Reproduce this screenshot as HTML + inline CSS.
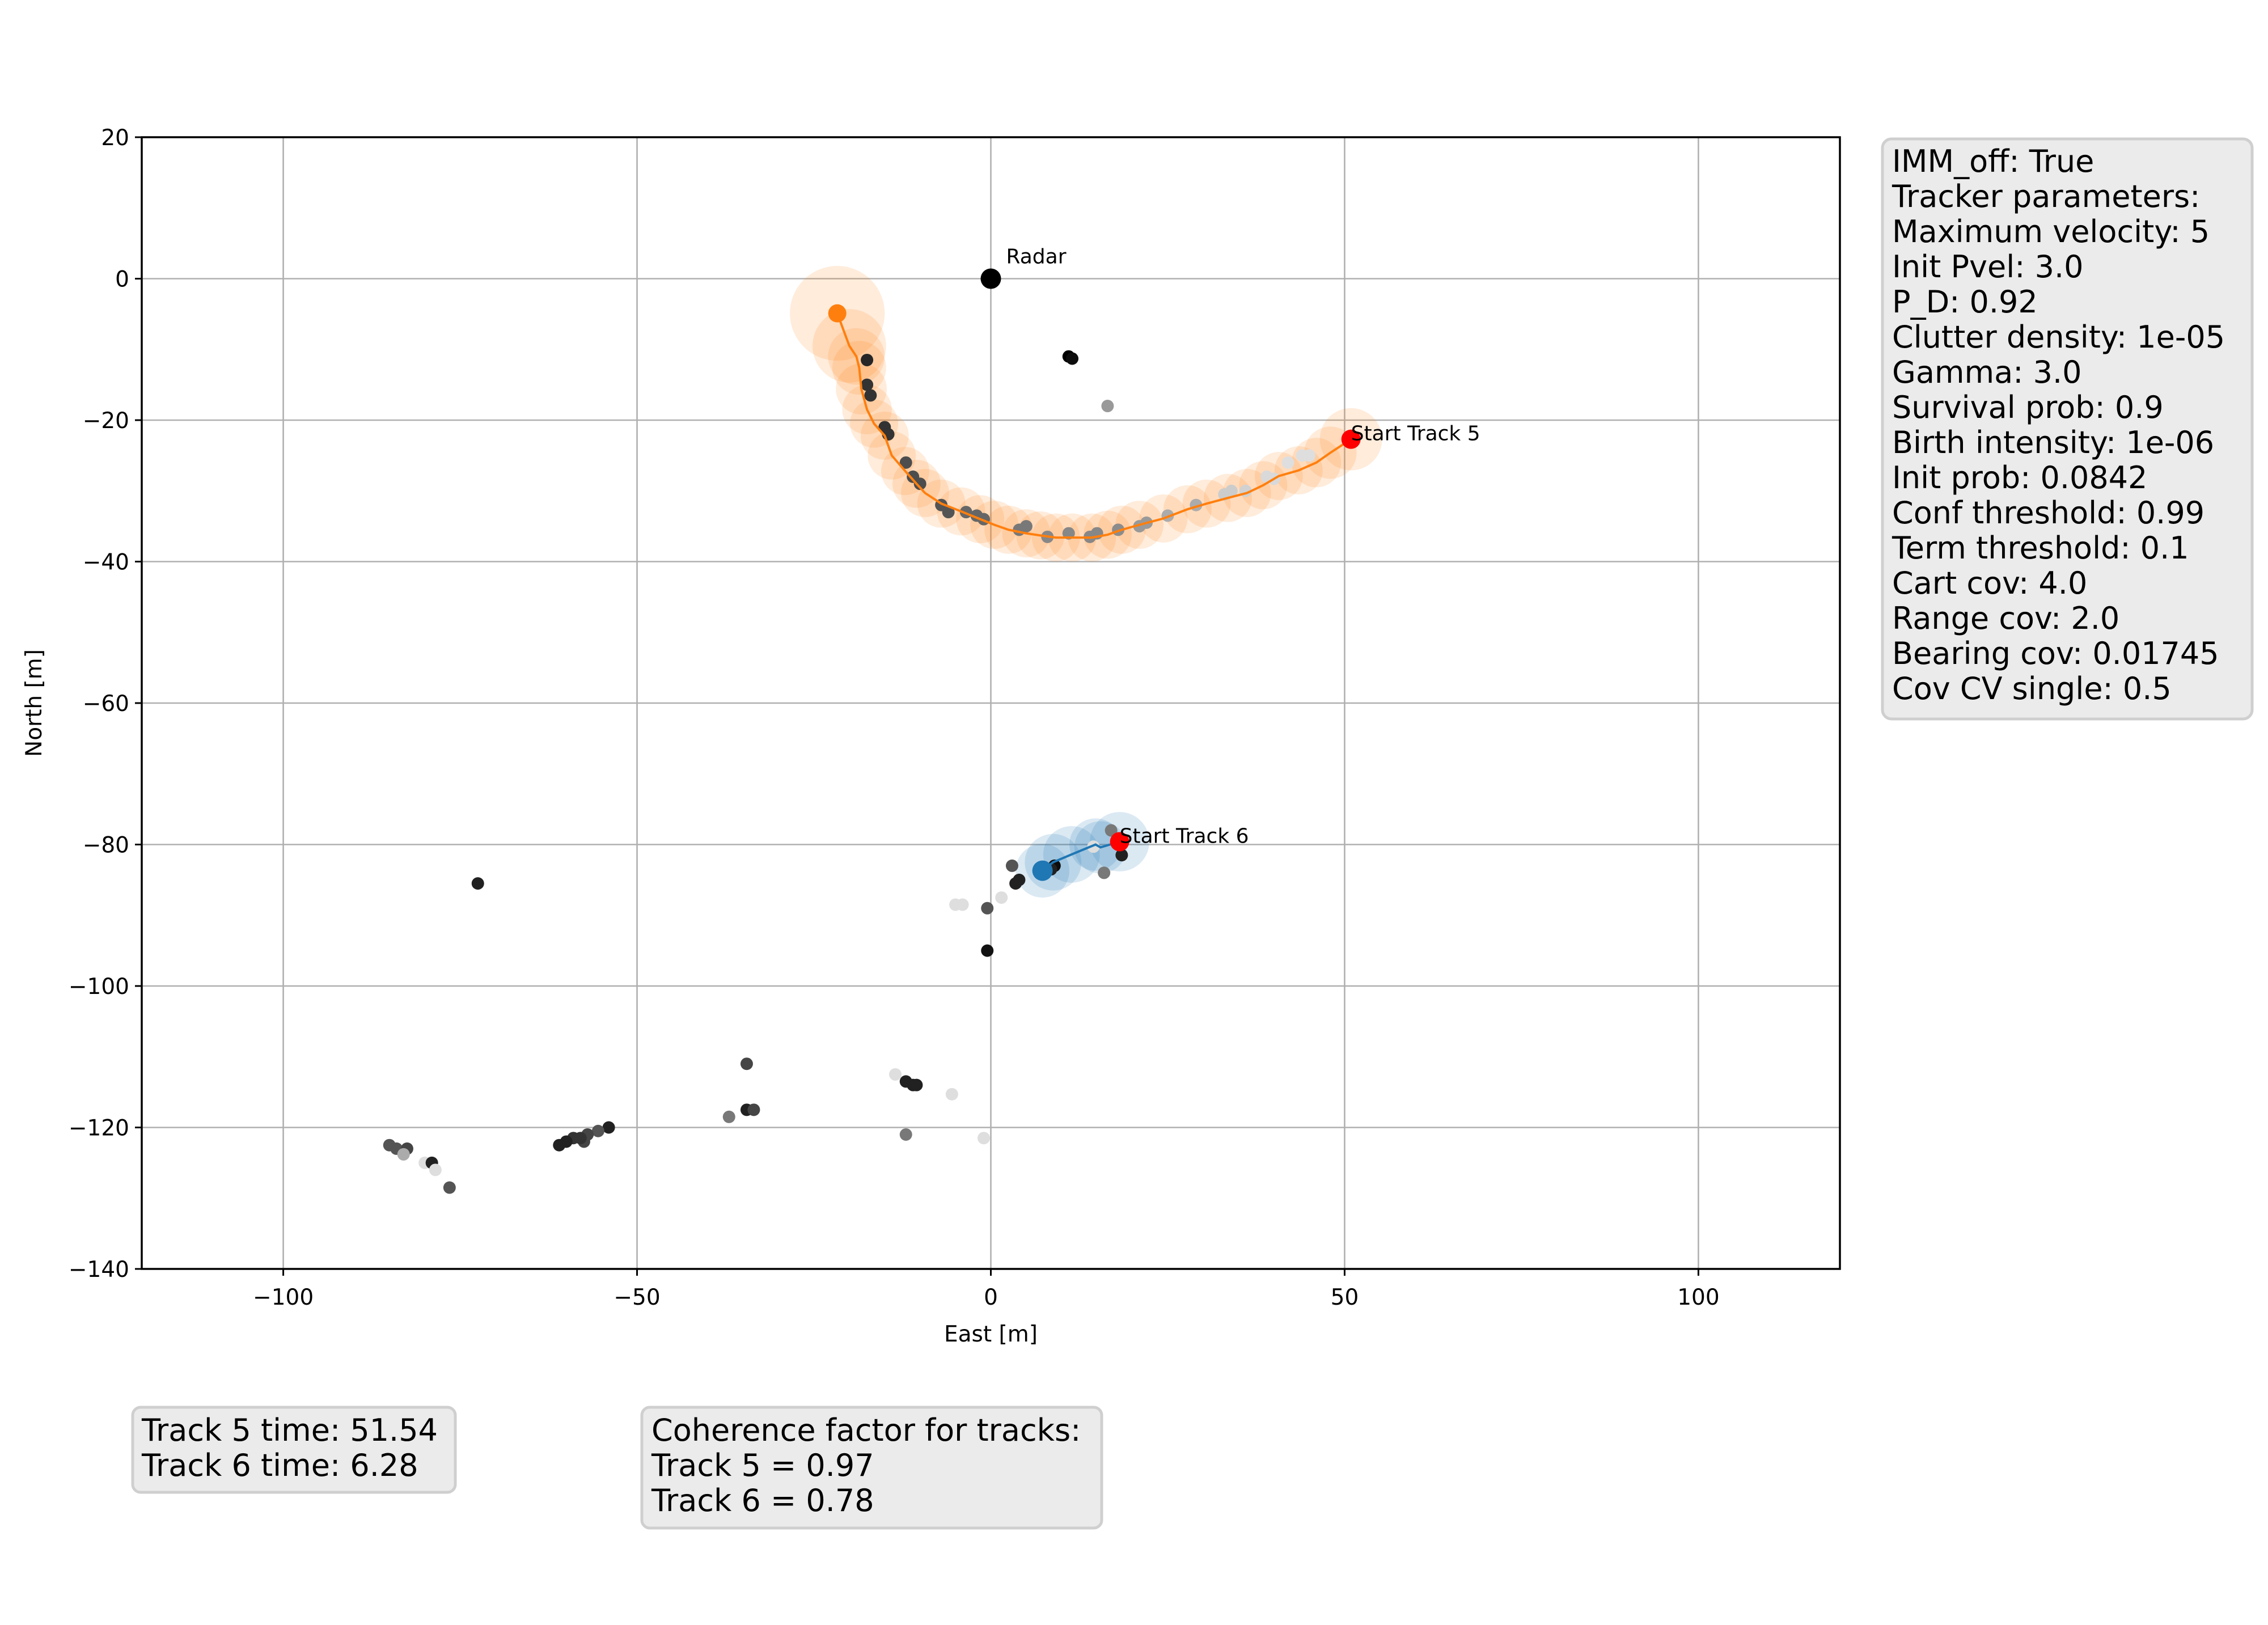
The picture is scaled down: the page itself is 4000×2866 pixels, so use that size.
<!DOCTYPE html>
<html><head><meta charset="utf-8">
<style>
html,body{margin:0;padding:0;background:#fff;}
svg{display:block;}
text{font-family:"DejaVu Sans","Liberation Sans",sans-serif;}
</style></head>
<body>
<svg id="chart" width="4000" height="2866" viewBox="0 0 4000 2866" xmlns="http://www.w3.org/2000/svg">
<rect width="4000" height="2866" fill="#fff"/>
<g id="grid"></g>
<g id="ell"></g>
<g id="meas"></g>
<g id="tracks"></g>
<g id="axes"></g>

<g>
<rect x="3320" y="245" width="652" height="1023" rx="16" fill="#ebebeb" stroke="#cfcfcf" stroke-width="5"/>
<text x="3337" font-size="54" fill="#000">
<tspan x="3337" y="303">IMM_off: True</tspan>
<tspan x="3337" dy="62">Tracker parameters:</tspan>
<tspan x="3337" dy="62">Maximum velocity: 5</tspan>
<tspan x="3337" dy="62">Init Pvel: 3.0</tspan>
<tspan x="3337" dy="62">P_D: 0.92</tspan>
<tspan x="3337" dy="62">Clutter density: 1e-05</tspan>
<tspan x="3337" dy="62">Gamma: 3.0</tspan>
<tspan x="3337" dy="62">Survival prob: 0.9</tspan>
<tspan x="3337" dy="62">Birth intensity: 1e-06</tspan>
<tspan x="3337" dy="62">Init prob: 0.0842</tspan>
<tspan x="3337" dy="62">Conf threshold: 0.99</tspan>
<tspan x="3337" dy="62">Term threshold: 0.1</tspan>
<tspan x="3337" dy="62">Cart cov: 4.0</tspan>
<tspan x="3337" dy="62">Range cov: 2.0</tspan>
<tspan x="3337" dy="62">Bearing cov: 0.01745</tspan>
<tspan x="3337" dy="62">Cov CV single: 0.5</tspan>
</text>
</g>
<g>
<rect x="234" y="2482" width="569" height="150" rx="14" fill="#ebebeb" stroke="#cfcfcf" stroke-width="5"/>
<text font-size="54" fill="#000"><tspan x="250" y="2541">Track 5 time: 51.54</tspan><tspan x="250" dy="62">Track 6 time: 6.28</tspan></text>
</g>
<g>
<rect x="1132" y="2482" width="811" height="213" rx="14" fill="#ebebeb" stroke="#cfcfcf" stroke-width="5"/>
<text font-size="54" fill="#000"><tspan x="1149" y="2541">Coherence factor for tracks:</tspan><tspan x="1149" dy="62">Track 5 = 0.97</tspan><tspan x="1149" dy="62">Track 6 = 0.78</tspan></text>
</g>
</svg>
<script>
const xTicks = [-100, -50, 0, 50, 100];
const yTicks = [20, 0, -20, -40, -60, -80, -100, -120, -140];
const track5X = [-21.7,-20,-19,-18.6,-18.3,-17.5,-16.5,-15,-14,-12.1,-10.5,-9.3,-7,-4.2,-1.5,0.5,2.5,5,7,9.2,11.5,14.3,16.5,18.5,21,24.4,27.8,30.5,33.5,36.2,38.5,40.7,43.5,46,48,50.9];
const track5Y = [-4.9,-9.5,-11,-12.6,-15.6,-18.5,-20.5,-22.2,-25,-27.2,-29,-30.3,-31.8,-32.9,-34,-34.8,-35.5,-36,-36.3,-36.6,-36.6,-36.6,-36.2,-35.5,-34.8,-33.9,-32.6,-31.8,-31,-30.3,-29.2,-27.9,-27.1,-26,-24.6,-22.7];
const track5R = [6.7,5.2,4.0,3.8,3.6,3.5,3.4,3.4,3.4,3.4,3.4,3.4,3.4,3.4,3.4,3.4,3.4,3.4,3.4,3.4,3.4,3.4,3.4,3.4,3.4,3.4,3.4,3.4,3.4,3.4,3.4,3.4,3.4,3.5,3.7,4.4];
const track6X = [18.2,15.5,14.8,11.4,8.8,7.3];
const track6Y = [-79.6,-80.4,-80,-81.4,-82.5,-83.7];
const track6R = [4.2,3.7,3.7,4.0,4.0,3.8];
const measX = [-17.5,-17.5,-17,-15,-14.5,-12,-11,-10,-7,-6,-3.5,-2,-1,4,5,8,11,14,15,18,21,22,25,29,33,34,36,39,40,42,44,45,11,11.5,16.5,-72.5,17,16,18.5,14.5,9,8.5,3,3.5,4,-0.5,-5,-4,1.5,-0.5,-34.5,-34.5,-33.5,-37,-13.5,-12,-11,-10.5,-5.5,-12,-1,-54,-55.5,-57,-57.5,-59,-60,-61,-58,-85,-84,-82.5,-83,-80,-79,-78.5,-76.5];
const measY = [-11.5,-15,-16.5,-21,-22,-26,-28,-29,-32,-33,-33,-33.5,-34,-35.5,-35,-36.5,-36,-36.5,-36,-35.5,-35,-34.5,-33.5,-32,-30.5,-30,-30,-28,-28.3,-26,-25,-25,-11,-11.3,-18,-85.5,-78,-84,-81.5,-80.3,-83,-83.5,-83,-85.5,-85,-89,-88.5,-88.5,-87.5,-95,-111,-117.5,-117.5,-118.5,-112.5,-113.5,-114,-114,-115.3,-121,-121.5,-120,-120.5,-121,-122,-121.5,-122,-122.5,-121.5,-122.5,-123,-123,-123.8,-125,-125,-126,-128.5];
const measShade = [0.15,0.2,0.2,0.2,0.2,0.3,0.3,0.3,0.33,0.33,0.4,0.4,0.4,0.47,0.47,0.53,0.53,0.53,0.53,0.55,0.6,0.6,0.67,0.67,0.8,0.8,0.82,0.85,0.85,0.87,0.87,0.87,0,0.05,0.6,0.13,0.47,0.47,0.13,0.87,0.05,0.13,0.33,0.13,0.13,0.33,0.87,0.87,0.87,0.07,0.27,0.13,0.27,0.47,0.87,0.13,0.13,0.13,0.87,0.47,0.87,0.13,0.33,0.27,0.27,0.2,0.13,0.13,0.2,0.33,0.33,0.27,0.67,0.87,0.13,0.87,0.33];

const L=250, R=3245, T=242, B=2238;
const sx = v => L + (v + 120) * (R - L) / 240;
const sy = v => T + (20 - v) * (B - T) / 160;
const sc = (R - L) / 240;
const NS = "http://www.w3.org/2000/svg";
function mk(tag, parent, attrs){ const e=document.createElementNS(NS,tag); for(const k in attrs) e.setAttribute(k,attrs[k]); parent.appendChild(e); return e; }

const grid=document.getElementById('grid'), axes=document.getElementById('axes');
xTicks.forEach(v=>{
  const g=mk('line',grid,{x1:sx(v),x2:sx(v),y1:T,y2:B,stroke:'#b0b0b0','stroke-width':2.6});
  
  
  const t=mk('line',axes,{x1:sx(v),x2:sx(v),y1:B,y2:B+12,stroke:'#000','stroke-width':3});
  
  
  const l=mk('text',axes,{x:sx(v),y:B+63,'font-size':39,'text-anchor':'middle'});
  l.textContent = v<0 ? '\u2212'+Math.abs(v) : String(v);
  
  
});
yTicks.forEach(v=>{
  const g=mk('line',grid,{x1:L,x2:R,y1:sy(v),y2:sy(v),stroke:'#b0b0b0','stroke-width':2.6});
  
  
  const t=mk('line',axes,{x1:L-12,x2:L,y1:sy(v),y2:sy(v),stroke:'#000','stroke-width':3});
  
  
  const l=mk('text',axes,{x:L-22,y:sy(v)+14,'font-size':39,'text-anchor':'end'});
  l.textContent = v<0 ? '\u2212'+Math.abs(v) : String(v);
  
  
});
const fr=mk('rect',axes,{x:L,y:T,width:R-L,height:B-T,fill:'none',stroke:'#000','stroke-width':3.5});


const xl=mk('text',axes,{x:(L+R)/2,y:2366,'font-size':39,'text-anchor':'middle'});
xl.textContent='East [m]';


const yl=mk('text',axes,{x:0,y:0,'font-size':39,'text-anchor':'middle',transform:'translate(73,1240) rotate(-90)'});
yl.textContent='North [m]';



const ell=document.getElementById('ell');
track5X.forEach((x,i)=>{
  const c=mk('circle',ell,{cx:sx(x),cy:sy(track5Y[i]),r:track5R[i]*sc,fill:'#ff7f0e','fill-opacity':0.15});
  
  
});
track6X.forEach((x,i)=>{
  const c=mk('circle',ell,{cx:sx(x),cy:sy(track6Y[i]),r:track6R[i]*sc,fill:'#1f77b4','fill-opacity':0.16});
  
  
});

const meas=document.getElementById('meas');
measX.forEach((x,i)=>{
  const g=Math.round(measShade[i]*255);
  const c=mk('circle',meas,{cx:sx(x),cy:sy(measY[i]),r:11,fill:`rgb(${g},${g},${g})`});
  
  
});

const tr=document.getElementById('tracks');
const p5=mk('polyline',tr,{points:track5X.map((x,i)=>sx(x)+','+sy(track5Y[i])).join(' '),fill:'none',stroke:'#ff7f0e','stroke-width':4});


const p6=mk('polyline',tr,{points:track6X.map((x,i)=>sx(x)+','+sy(track6Y[i])).join(' '),fill:'none',stroke:'#1f77b4','stroke-width':4});


const e5=mk('circle',tr,{cx:sx(track5X[0]),cy:sy(track5Y[0]),r:16,fill:'#ff7f0e'});


const e6=mk('circle',tr,{cx:sx(track6X[track6X.length-1]),cy:sy(track6Y[track6Y.length-1]),r:18,fill:'#1f77b4'});


const s5=mk('circle',tr,{cx:sx(track5X[track5X.length-1]),cy:sy(track5Y[track5Y.length-1]),r:17,fill:'#ff0000'});


const s6=mk('circle',tr,{cx:sx(track6X[0]),cy:sy(track6Y[0]),r:17,fill:'#ff0000'});


const rd=mk('circle',tr,{cx:sx(0),cy:sy(0),r:18,fill:'#000'});


const rl=mk('text',tr,{x:sx(0)+27,y:sy(0)-27,'font-size':36});
rl.textContent='Radar';


const l5=mk('text',tr,{x:sx(track5X[track5X.length-1]),y:sy(track5Y[track5Y.length-1])+2,'font-size':36});
l5.textContent='Start Track 5';


const l6=mk('text',tr,{x:sx(track6X[0]),y:sy(track6Y[0])+2,'font-size':36});
l6.textContent='Start Track 6';


</script>
</body></html>
